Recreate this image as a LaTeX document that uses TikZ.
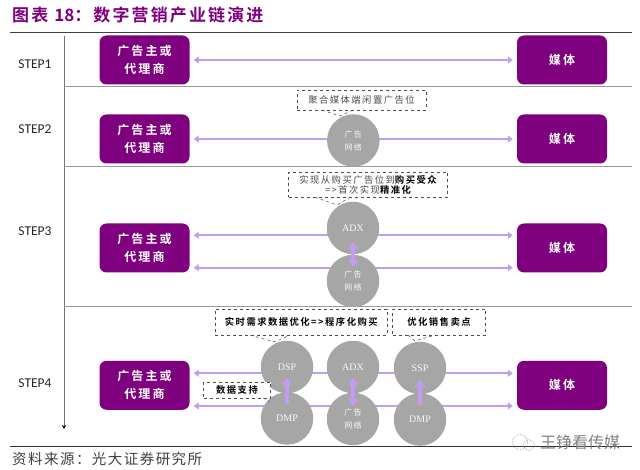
\documentclass[tikz,border=0pt]{standalone}
\usepackage{fontspec}
\setmainfont{Liberation Serif}
\newfontfamily\cjkt[LetterSpace=12.5]{Noto Sans CJK SC Bold}
\newfontfamily\cjkz{Noto Sans CJK SC Bold}
\newfontfamily\cjka[LetterSpace=17]{Noto Sans CJK SC Bold}
\newfontfamily\cjkn[LetterSpace=16]{Noto Sans CJK SC}
\newfontfamily\cjknb[LetterSpace=16]{Noto Sans CJK SC Bold}
\newfontfamily\cjkh[LetterSpace=15]{Noto Sans CJK SC}
\newfontfamily\cjksrc[LetterSpace=10]{Noto Sans CJK SC}
\newfontfamily\cjkw{Noto Sans CJK SC}
\newfontfamily\stepf{Carlito}
\usetikzlibrary{arrows.meta}
\definecolor{pur}{HTML}{7E007E}
\definecolor{lil}{HTML}{C39BEF}
\definecolor{cir}{HTML}{A6A6A6}
\tikzset{x=1pt,y=-1pt,
 actor/.style={draw=none,fill=pur,rounded corners=7pt,minimum width=90pt,minimum height=49pt,text=white,align=center,font=\cjka\fontsize{12}{18}\selectfont,inner sep=0pt},
 hub/.style={circle,fill=cir,minimum size=52.5pt,inner sep=0pt,text=white!90!cir,align=center,font=\fontsize{10}{12}\selectfont},
 hubc/.style={hub,font=\cjkh\fontsize{8}{13}\selectfont},
 link/.style={draw=lil,line width=2pt,{Triangle[length=5pt,width=7pt]}-{Triangle[length=5pt,width=7pt]}},
 vlink/.style={draw=lil,line width=3.5pt,-{Triangle[length=7pt,width=10pt]}},
 vlinkb/.style={draw=lil,line width=3.5pt,{Triangle[length=7pt,width=10pt]}-{Triangle[length=7pt,width=10pt]}},
 note/.style={draw=black!70,dashed,line width=.5pt,fill=white,align=center,inner sep=0pt,text=black!70,font=\cjkn\fontsize{9.3}{12}\selectfont},
 noteb/.style={note,text=black,font=\cjknb\fontsize{9.3}{12}\selectfont},
 tail/.style={draw=black!70,dashed,line width=.5pt},
 rule/.style={draw=black!40,line width=.9pt},
 steplab/.style={font=\stepf\fontsize{13.5}{15}\selectfont,text=black!85}}
\begin{document}
\begin{tikzpicture}
\useasboundingbox (0,0) rectangle (640,470);
\node[anchor=west,text=pur,inner sep=0pt,font=\cjkt\fontsize{17}{18}\selectfont] (title) at (12,15) {图表 {\cjkz 18}：数字营销产业链演进};
\coordinate (tl) at (10,32); \coordinate (tr) at (632,32);
\coordinate (bl) at (10,446); \coordinate (br) at (632,446);
\draw[black!75,line width=.7pt] (tl) -- (tr);
\draw[black!80,line width=.7pt] (bl) -- (br);
\coordinate (axt) at (64,36); \coordinate (axb) at (64,429);
\draw[black!55,line width=.8pt,-{Stealth[length=4pt,width=4pt,black]}] (axt) -- (axb);
\foreach \y/\n in {86/a,166/b,306/c}{
 \coordinate (rl\n) at (64,\y); \coordinate (rr\n) at (632,\y);
 \draw[rule] (rl\n) -- (rr\n);}
\node[steplab] (s1) at (35,64) {STEP1};
\node[steplab] (s2) at (35,129) {STEP2};
\node[steplab] (s3) at (35,231) {STEP3};
\node[steplab] (s4) at (35,383) {STEP4};
% actors
\node[actor] (a1) at (144.5,60) {广告主或\\代理商};
\node[actor] (m1) at (562,60) {媒体};
\node[actor] (a2) at (144.5,139) {广告主或\\代理商};
\node[actor] (m2) at (562,139) {媒体};
\node[actor] (a3) at (144.5,248) {广告主或\\代理商};
\node[actor] (m3) at (562,248) {媒体};
\node[actor] (a4) at (144.5,385.3) {广告主或\\代理商};
\node[actor] (m4) at (562,385.3) {媒体};
% links
\draw[link] ([xshift=4pt]a1.east) -- ([xshift=-4pt]m1.west);
\draw[link] ([xshift=4pt]a2.east) -- ([xshift=-4pt]m2.west);
\draw[link] ([xshift=4pt,yshift=12.7pt]a3.east) -- ([xshift=-4pt,yshift=12.7pt]m3.west);
\draw[link] ([xshift=4pt,yshift=-19.7pt]a3.east) -- ([xshift=-4pt,yshift=-19.7pt]m3.west);
\draw[link] ([xshift=4pt,yshift=12pt]a4.east) -- ([xshift=-4pt,yshift=12pt]m4.west);
\draw[link] ([xshift=4pt,yshift=-20.7pt]a4.east) -- ([xshift=-4pt,yshift=-20.7pt]m4.west);
% step 2
\node[hubc] (net2) at (353.3,140.5) {广告\\网络};
\node[note,minimum width=129pt,minimum height=20pt] (n2) at (361.5,100) {聚合媒体端闲置广告位};
\coordinate (t2a) at (322,110); \coordinate (t2b) at (353,110); \coordinate (t2c) at (340,116);
\draw[tail] (t2a) -- (t2c) -- (t2b);
% step 3
\node[hub] (adx3) at (353,228) {ADX};
\node[hubc] (net3) at (353,281) {广告\\网络};
\draw[vlinkb] (adx3.center |- 0,242) -- (net3.center |- 0,267);
\node[note,minimum width=159pt,minimum height=25pt] (n3) at (368,184.8) {\raisebox{-1.5pt}{实现从购买广告位到{\color{black}\cjknb 购买受众}}\\[-.5pt]=>首次实现{\color{black}\cjknb 精准化}};
\coordinate (t3a) at (315,197.3); \coordinate (t3b) at (350,197.3); \coordinate (t3c) at (337,205);
\draw[tail] (t3a) -- (t3c) -- (t3b);
% step 4
\node[hub] (dsp) at (287,367) {DSP};
\node[hub] (dmp1) at (287,418.5) {DMP};
\node[hub] (adx4) at (353,367) {ADX};
\node[hubc] (net4) at (353,419) {广告\\网络};
\node[hub] (ssp) at (420,368) {SSP};
\node[hub] (dmp2) at (420,419.5) {DMP};
\draw[vlink] (dmp1.center |- 0,404) -- (dsp.center |- 0,378);
\draw[vlinkb] (adx4.center |- 0,378) -- (net4.center |- 0,406);
\draw[vlink] (dmp2.center |- 0,405) -- (ssp.center |- 0,380);
\node[noteb,minimum width=172pt,minimum height=26pt] (n4a) at (301.3,322) {实时需求数据优化=>程序化购买};
\node[noteb,minimum width=93pt,minimum height=26pt] (n4b) at (439,322) {优化销售卖点};
\coordinate (t4a) at (250,335); \coordinate (t4b) at (290,335); \coordinate (t4x) at (275,342);
\draw[tail] (t4a) -- (t4x) -- (t4b);
\coordinate (t4c) at (408,335); \coordinate (t4d) at (435,335); \coordinate (t4y) at (415,341);
\draw[tail] (t4c) -- (t4y) -- (t4d);
\node[noteb,minimum width=67pt,minimum height=16pt] (n4c) at (237,390) {数据支持};
\coordinate (t4e) at (263,397.8); \coordinate (t4f) at (270,402);
\draw[tail] (t4e) -- (t4f);
\node[anchor=west,inner sep=0pt,text=black!75,font=\cjksrc\fontsize{14.5}{16}\selectfont] (src) at (12,459) {资料来源：光大证券研究所};
\draw[black!45,densely dotted,line width=.6pt] (520,442) circle (7.5pt) (529,445) circle (5.5pt);
\node[anchor=west,inner sep=0pt,text=black!50,font=\cjkw\fontsize{16}{18}\selectfont] (wm) at (540,442) {王铮看传媒};
\end{tikzpicture}
\end{document}
